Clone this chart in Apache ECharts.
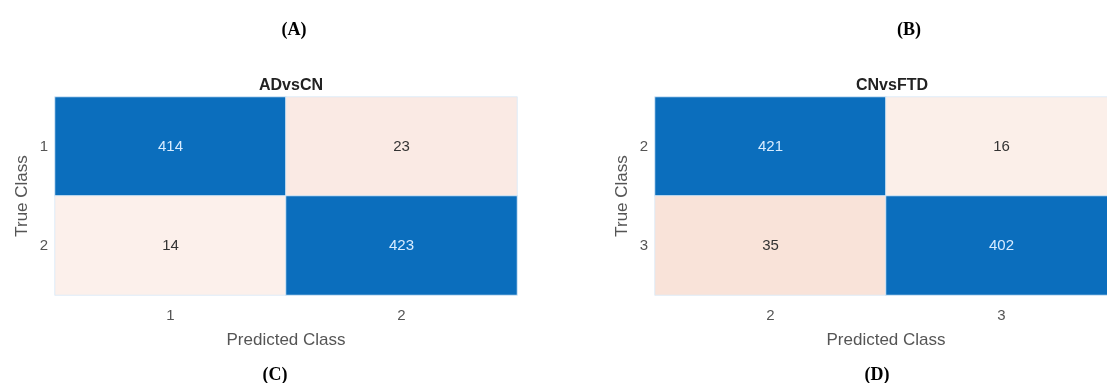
<!DOCTYPE html>
<html>
<head>
<meta charset="utf-8">
<script src="https://cdn.jsdelivr.net/npm/echarts@6/dist/echarts.min.js"></script>
<style>html,body{margin:0;padding:0;background:#fff;overflow:hidden}#c{width:1130px;height:383px}</style>
</head>
<body>
<div id="c"></div>
<script>
const panelTitles = ['ADvsCN', 'CNvsFTD'];
const topLabels = ['(A)', '(B)'];
const bottomLabels = ['(C)', '(D)'];
const classesA = ['1', '2'];
const classesB = ['2', '3'];
const matrixA = [[414, 23], [14, 423]];
const matrixB = [[421, 16], [35, 402]];
const xAxisTitle = 'Predicted Class';
const yAxisTitle = 'True Class';

const FONT = '"Liberation Sans", Arial, Helvetica, sans-serif';
const SERIF = '"Liberation Serif", "Times New Roman", serif';
const BLUE = '#0b6ebd';

function offColor(v, rowTotal) {
  const t = Math.min(1, 0.035 + v / rowTotal * 1.6);
  const r = Math.round(255 - t * (255 - 217));
  const g = Math.round(255 - t * (255 - 83));
  const b = Math.round(255 - t * (255 - 25));
  return `rgb(${r},${g},${b})`;
}

function buildData(matrix) {
  const out = [];
  matrix.forEach((row, ri) => {
    const total = row.reduce((a, b) => a + b, 0);
    row.forEach((v, ci) => {
      const diag = ri === ci;
      out.push({
        value: [ci, ri, v],
        itemStyle: { color: diag ? BLUE : offColor(v, total) },
        label: { color: diag ? '#d8ecff' : '#333333' }
      });
    });
  });
  return out;
}

const grids = [
  { left: 55, top: 97, width: 462, height: 198 },
  { left: 655, top: 97, width: 462, height: 198 }
];
const titleX = [286, 887];
const topX = [289, 904];
const bottomX = [270, 872];

function xAx(i, cats) {
  return {
    type: 'category', gridIndex: i, data: cats, position: 'bottom',
    axisLine: { show: false }, axisTick: { show: false }, splitLine: { show: false },
    axisLabel: { color: '#555', fontSize: 15, fontFamily: FONT, margin: 13 },
    name: xAxisTitle, nameLocation: 'middle', nameGap: 37,
    nameTextStyle: { color: '#555', fontSize: 17, fontFamily: FONT }
  };
}
function yAx(i, cats) {
  return {
    type: 'category', gridIndex: i, data: cats, inverse: true,
    axisLine: { show: false }, axisTick: { show: false }, splitLine: { show: false },
    axisLabel: { color: '#555', fontSize: 15, fontFamily: FONT, margin: 7 },
    name: yAxisTitle, nameLocation: 'middle', nameGap: 24, nameRotate: 90,
    nameTextStyle: { color: '#555', fontSize: 17, fontFamily: FONT }
  };
}

const titles = [];
[0, 1].forEach(i => {
  titles.push({ text: topLabels[i], left: topX[i], top: 16, textAlign: 'center',
    textStyle: { fontFamily: SERIF, fontWeight: 'bold', fontSize: 18, color: '#000' } });
  titles.push({ text: panelTitles[i], left: titleX[i], top: 73, textAlign: 'center',
    textStyle: { fontFamily: FONT, fontWeight: 'bold', fontSize: 16, color: '#222' } });
  titles.push({ text: bottomLabels[i], left: bottomX[i], top: 361, textAlign: 'center',
    textStyle: { fontFamily: SERIF, fontWeight: 'bold', fontSize: 18, color: '#000' } });
});

const chart = echarts.init(document.getElementById('c'), null, { renderer: 'canvas' });
chart.setOption({
  animation: false,
  backgroundColor: '#ffffff',
  title: titles,
  grid: grids,
  xAxis: [xAx(0, classesA), xAx(1, classesB)],
  yAxis: [yAx(0, classesA), yAx(1, classesB)],
  series: [matrixA, matrixB].map((m, i) => ({
    type: 'heatmap', xAxisIndex: i, yAxisIndex: i,
    data: buildData(m),
    itemStyle: { borderColor: 'rgba(220,235,248,0.9)', borderWidth: 1 },
    label: { show: true, fontSize: 15, fontFamily: FONT, formatter: p => p.value[2] }
  }))
});
</script>
</body>
</html>
